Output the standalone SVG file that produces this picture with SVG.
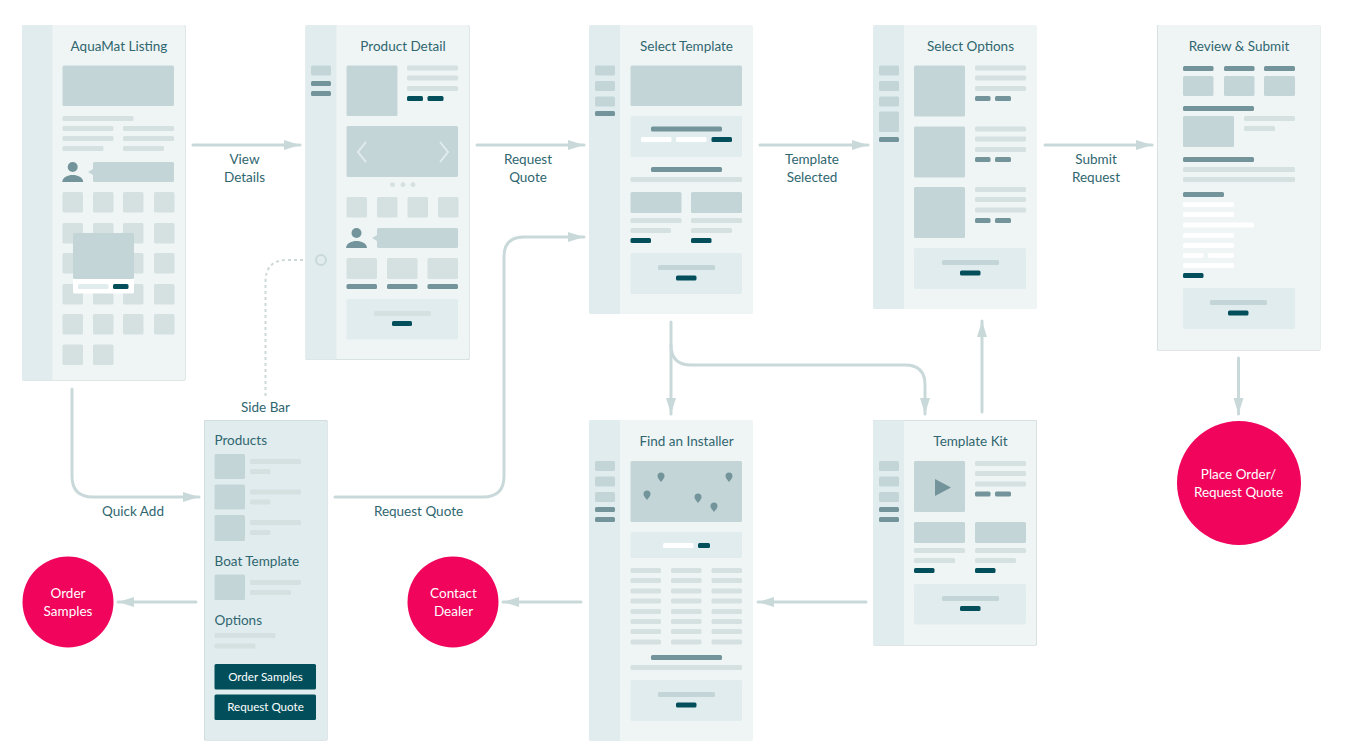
<svg xmlns="http://www.w3.org/2000/svg" width="1349" height="756" viewBox="0 0 1349 756">
<style>
text{font-family:"Lato","Noto Sans","Liberation Sans",sans-serif;font-size:13.500px;fill:#2f666f}
.t{text-anchor:middle}
.w{fill:#fff}
.tw{fill:#fff;text-anchor:middle}
.b{font-size:11.600px}
rect{rx:1.5px}
.card{fill:#eff5f5}
.edge{fill:#c2cecf}
.side{fill:#e1ecee}
.a{fill:#c4d5d7}
.l{fill:#d5e0e1}
.m{fill:#73949a}
.d{fill:#024f5b}
.p{fill:#e1ecee}
.r{fill:#f0045c}
.c{fill:none;stroke:#c9d9da;stroke-width:3;stroke-linecap:round}
.ds{fill:none;stroke:#cdd8d9;stroke-width:2;stroke-dasharray:3 3}
</style>
<defs>
<marker id="ah" markerUnits="userSpaceOnUse" markerWidth="18" markerHeight="12" refX="16" refY="5.5" orient="auto"><path d="M0 0.5L16 5.5L0 10.5z" fill="#c9d9da"/></marker>
<path id="pin" d="M0 5C-2 2.500-3.500 1-3.500-1A3.500 3.500 0 0 1 3.500-1C3.500 1 2 2.500 0 5z" fill="#73949a"/>
<path id="person" d="M-10.500 15C-10 10-5 8 0 8S10 10 10.500 15z" fill="#73949a"/>
</defs>
<g id="connectors">
<path class="c" marker-end="url(#ah)" d="M193 145H300"/>
<path class="c" marker-end="url(#ah)" d="M477 145H584"/>
<path class="c" marker-end="url(#ah)" d="M760 145H868"/>
<path class="c" marker-end="url(#ah)" d="M1045 145H1152"/>
<path class="c" marker-end="url(#ah)" d="M1238.500 358V414"/>
<path class="c" marker-end="url(#ah)" d="M72 389V476Q72 497 93 497H199"/>
<path class="c" marker-end="url(#ah)" d="M335 497H483Q504 497 504 476V257Q504 237 524 237H584"/>
<path class="c" marker-end="url(#ah)" d="M671 322V414"/>
<path class="c" marker-end="url(#ah)" d="M671 345Q671 365 691 365H905Q925 365 925 385V414"/>
<path class="c" marker-end="url(#ah)" d="M982 412V321"/>
<path class="c" marker-end="url(#ah)" d="M866 602H758"/>
<path class="c" marker-end="url(#ah)" d="M581 602H503"/>
<path class="c" marker-end="url(#ah)" d="M196 602H118"/>
<path class="ds" d="M315 260H287Q265.500 260 265.500 282V396"/>
</g>
<g id="labels">
<text class="t" x="244.500" y="164">View</text><text class="t" x="244.500" y="182">Details</text>
<text class="t" x="528" y="164">Request</text><text class="t" x="528" y="182">Quote</text>
<text class="t" x="812" y="164">Template</text><text class="t" x="812" y="182">Selected</text>
<text class="t" x="1096" y="164">Submit</text><text class="t" x="1096" y="182">Request</text>
<text class="t" x="133" y="516">Quick Add</text>
<text class="t" x="418.500" y="516">Request Quote</text>
<text class="t" x="265.500" y="412">Side Bar</text>
</g>
<g id="aquamat-listing">
<rect class="edge" x="22" y="25" width="163.500" height="355.500"/><rect class="card" x="22" y="25" width="163" height="355"/>
<path class="side" d="M24 25H52.500V380H24Q22 380 22 378V27Q22 25 24 25z"/>
<text class="t" x="119" y="50.500">AquaMat Listing</text>
<rect class="a" x="62.500" y="65.500" width="111.500" height="40.500"/>
<rect class="l" x="62.500" y="116" width="71" height="5"/>
<rect class="l" x="62.500" y="126" width="51" height="5"/><rect class="l" x="123" y="126" width="51" height="5"/>
<rect class="l" x="62.500" y="136" width="51" height="5"/><rect class="l" x="123" y="136" width="51" height="5"/>
<rect class="l" x="62.500" y="146" width="41" height="5"/><rect class="l" x="123" y="146" width="41" height="5"/>
<circle class="m" cx="72.700" cy="167" r="5"/><use href="#person" x="72.700" y="167"/>
<rect class="a" x="93" y="162" width="81" height="20"/><path class="a" d="M88 172L93 169V175z"/>
<rect class="l" x="62.500" y="192" width="20.500" height="20.500"/><rect class="l" x="93" y="192" width="20.500" height="20.500"/><rect class="l" x="123" y="192" width="20.500" height="20.500"/><rect class="l" x="154" y="192" width="20.500" height="20.500"/>
<rect class="l" x="62.500" y="223" width="20.500" height="20.500"/><rect class="l" x="93" y="223" width="20.500" height="20.500"/><rect class="l" x="123" y="223" width="20.500" height="20.500"/><rect class="l" x="154" y="223" width="20.500" height="20.500"/>
<rect class="l" x="62.500" y="253" width="20.500" height="20.500"/><rect class="l" x="93" y="253" width="20.500" height="20.500"/><rect class="l" x="123" y="253" width="20.500" height="20.500"/><rect class="l" x="154" y="253" width="20.500" height="20.500"/>
<rect class="l" x="62.500" y="284" width="20.500" height="20.500"/><rect class="l" x="93" y="284" width="20.500" height="20.500"/><rect class="l" x="123" y="284" width="20.500" height="20.500"/><rect class="l" x="154" y="284" width="20.500" height="20.500"/>
<rect class="l" x="62.500" y="314" width="20.500" height="20.500"/><rect class="l" x="93" y="314" width="20.500" height="20.500"/><rect class="l" x="123" y="314" width="20.500" height="20.500"/><rect class="l" x="154" y="314" width="20.500" height="20.500"/>
<rect class="l" x="62.500" y="344.500" width="20.500" height="20.500"/><rect class="l" x="93" y="344.500" width="20.500" height="20.500"/>
<rect class="w" x="73" y="270" width="61" height="23.500"/>
<rect class="a" x="73" y="233" width="61" height="46"/>
<rect class="p" x="78" y="284" width="30.500" height="5"/><rect class="d" x="113" y="284" width="15.500" height="5"/>
</g>
<g id="product-detail">
<rect class="edge" x="305.500" y="25" width="164" height="335"/><rect class="card" x="305.500" y="25" width="163.500" height="334.500"/>
<path class="side" d="M307.500 25H336.500V359.500H307.500Q305.500 359.500 305.500 357.500V27Q305.500 25 307.500 25z"/>
<text class="t" x="403" y="50.500">Product Detail</text>
<rect class="a" x="311" y="65.500" width="20" height="10"/><rect class="m" x="311" y="81" width="20" height="5"/><rect class="m" x="311" y="91" width="20" height="5"/>
<rect class="a" x="346.500" y="65.500" width="51" height="50.500"/>
<rect class="l" x="407" y="65.500" width="51" height="5"/><rect class="l" x="407" y="75.500" width="51" height="5"/><rect class="l" x="407" y="86" width="51" height="5"/>
<rect class="d" x="407" y="96" width="16" height="5"/><rect class="d" x="427.500" y="96" width="16" height="5"/>
<rect class="a" x="346.500" y="126" width="111.500" height="51"/>
<path d="M366 142L358 152L366 162M440 142L448 152L440 162" fill="none" stroke="#e1ecee" stroke-width="2"/>
<circle class="l" cx="392.500" cy="184.700" r="2.400"/><circle class="l" cx="403" cy="184.700" r="2.400"/><circle class="l" cx="413" cy="184.700" r="2.400"/>
<rect class="l" x="346.500" y="197" width="20.500" height="20.500"/><rect class="l" x="377" y="197" width="20.500" height="20.500"/><rect class="l" x="407.500" y="197" width="20.500" height="20.500"/><rect class="l" x="438" y="197" width="20.500" height="20.500"/>
<circle class="m" cx="356.500" cy="233" r="5"/><use href="#person" x="356.500" y="233"/>
<rect class="a" x="377" y="228" width="81" height="20"/><path class="a" d="M372 238L377 235V241z"/>
<rect class="l" x="346.500" y="258" width="30.500" height="21"/><rect class="l" x="387" y="258" width="30.500" height="21"/><rect class="l" x="427.500" y="258" width="30.500" height="21"/>
<rect class="m" x="346.500" y="284" width="30.500" height="5"/><rect class="m" x="387" y="284" width="30.500" height="5"/><rect class="m" x="427.500" y="284" width="30.500" height="5"/>
<rect class="p" x="346.500" y="299" width="111.500" height="40.500"/><rect class="l" x="374" y="311" width="57" height="5"/><rect class="d" x="392" y="321" width="20" height="5"/>
<circle cx="321" cy="260" r="5" fill="none" stroke="#c9d9da" stroke-width="2"/>
</g>
<g id="select-template">
<rect class="card" x="589" y="25" width="164" height="289"/>
<path class="side" d="M591 25H620V314H591Q589 314 589 312V27Q589 25 591 25z"/>
<text class="t" x="686.500" y="50.500">Select Template</text>
<rect class="a" x="595" y="65.500" width="20" height="10"/><rect class="a" x="595" y="81" width="20" height="10"/><rect class="a" x="595" y="96.500" width="20" height="10"/><rect class="m" x="595" y="111" width="20" height="5"/>
<rect class="a" x="630.500" y="65.500" width="111.500" height="40.500"/>
<rect class="p" x="630.500" y="116" width="111.500" height="41"/>
<rect class="m" x="651" y="126.500" width="71" height="5"/>
<rect class="w" x="641" y="137" width="30.500" height="5"/><rect class="w" x="676" y="137" width="30.500" height="5"/><rect class="d" x="711.500" y="137" width="20.500" height="5"/>
<rect class="m" x="651" y="167" width="71" height="5"/><rect class="l" x="630.500" y="177" width="111.500" height="5"/>
<rect class="a" x="630.500" y="192" width="51" height="21"/><rect class="a" x="691" y="192" width="51" height="21"/>
<rect class="l" x="630.500" y="218" width="51" height="5"/><rect class="l" x="691" y="218" width="51" height="5"/>
<rect class="l" x="630.500" y="228" width="40.500" height="5"/><rect class="l" x="691" y="228" width="41" height="5"/>
<rect class="d" x="630.500" y="238" width="20.500" height="5"/><rect class="d" x="691" y="238" width="20.500" height="5"/>
<rect class="p" x="630.500" y="253" width="111.500" height="41"/><rect class="a" x="658" y="265" width="57" height="5"/><rect class="d" x="676" y="275.500" width="20.500" height="5"/>
</g>
<g id="select-options">
<rect class="card" x="873" y="25" width="164" height="284"/>
<path class="side" d="M875 25H904V309H875Q873 309 873 307V27Q873 25 875 25z"/>
<text class="t" x="970.500" y="50.500">Select Options</text>
<rect class="a" x="879" y="65.500" width="20" height="10"/><rect class="a" x="879" y="81" width="20" height="10"/><rect class="a" x="879" y="96.500" width="20" height="10"/><rect class="a" x="879" y="111.500" width="20" height="20.500"/><rect class="m" x="879" y="137" width="20" height="5"/>
<rect class="a" x="914" y="65.500" width="51" height="51"/><rect class="a" x="914" y="126.500" width="51" height="51"/><rect class="a" x="914" y="187" width="51" height="51"/>
<rect class="l" x="975" y="65.500" width="51" height="5"/><rect class="l" x="975" y="75.500" width="51" height="5"/><rect class="l" x="975" y="86" width="51" height="5"/><rect class="m" x="975" y="96" width="15.500" height="5"/><rect class="m" x="995" y="96" width="16" height="5"/>
<rect class="l" x="975" y="126.500" width="51" height="5"/><rect class="l" x="975" y="136.500" width="51" height="5"/><rect class="l" x="975" y="147" width="51" height="5"/><rect class="m" x="975" y="157" width="15.500" height="5"/><rect class="m" x="995" y="157" width="16" height="5"/>
<rect class="l" x="975" y="187" width="51" height="5"/><rect class="l" x="975" y="197" width="51" height="5"/><rect class="l" x="975" y="207.500" width="51" height="5"/><rect class="m" x="975" y="218" width="15.500" height="5"/><rect class="m" x="995" y="218" width="16" height="5"/>
<rect class="p" x="914" y="248" width="112" height="41"/><rect class="a" x="942" y="260" width="57" height="5"/><rect class="d" x="960" y="270.500" width="20.500" height="5"/>
</g>
<g id="review-submit">
<rect class="edge" x="1157" y="25" width="163.500" height="325.500"/><rect class="card" x="1157.500" y="25" width="163" height="325"/>
<text class="t" x="1239" y="50.500">Review &amp; Submit</text>
<rect class="m" x="1183" y="66" width="30.500" height="5"/><rect class="m" x="1224" y="66" width="30.500" height="5"/><rect class="m" x="1264" y="66" width="31" height="5"/>
<rect class="a" x="1183" y="76" width="30.500" height="20"/><rect class="a" x="1224" y="76" width="30.500" height="20"/><rect class="a" x="1264" y="76" width="31" height="20"/>
<rect class="m" x="1183" y="106" width="71" height="5"/>
<rect class="a" x="1183" y="116" width="51" height="31"/>
<rect class="l" x="1244" y="116" width="51" height="5"/><rect class="l" x="1244" y="126" width="31" height="5"/>
<rect class="m" x="1183" y="157" width="71" height="5"/>
<rect class="l" x="1183" y="167" width="112" height="5"/><rect class="l" x="1183" y="177" width="112" height="5"/>
<rect class="m" x="1183" y="192" width="41" height="5"/>
<rect class="w" x="1183" y="202" width="51" height="5"/><rect class="w" x="1183" y="212" width="51" height="5"/><rect class="w" x="1183" y="222.500" width="71" height="5"/><rect class="w" x="1183" y="233" width="51" height="5"/><rect class="w" x="1183" y="243" width="51" height="5"/><rect class="w" x="1183" y="253" width="20.500" height="5"/><rect class="w" x="1208" y="253" width="26" height="5"/><rect class="w" x="1183" y="263" width="51" height="5"/>
<rect class="d" x="1183" y="273" width="20.500" height="5"/>
<rect class="p" x="1183" y="288" width="112" height="41"/><rect class="a" x="1210" y="300" width="57" height="5"/><rect class="d" x="1228" y="310.500" width="20.500" height="5"/>
</g>
<g id="side-bar">
<rect class="edge" x="204" y="420" width="123.500" height="320.500"/><rect class="side" x="204.500" y="420.500" width="122.500" height="319.500"/>
<text x="214.500" y="445">Products</text>
<rect class="a" x="214.500" y="454" width="30.500" height="25"/><rect class="l" x="250" y="459" width="51" height="5"/><rect class="l" x="250" y="469" width="20.500" height="5"/>
<rect class="a" x="214.500" y="484.500" width="30.500" height="25"/><rect class="l" x="250" y="489.500" width="51" height="5"/><rect class="l" x="250" y="499.500" width="20.500" height="5"/>
<rect class="a" x="214.500" y="515" width="30.500" height="26"/><rect class="l" x="250" y="520" width="51" height="5"/><rect class="l" x="250" y="530" width="20.500" height="5"/>
<text x="214.500" y="566">Boat Template</text>
<rect class="a" x="214.500" y="574.500" width="30.500" height="25.500"/><rect class="l" x="250" y="580" width="51" height="5"/><rect class="l" x="250" y="590" width="41" height="5"/>
<text x="214.500" y="624.500">Options</text>
<rect class="l" x="214.500" y="633" width="61" height="5"/><rect class="l" x="214.500" y="643.500" width="41" height="5"/>
<rect class="d" x="214.500" y="664" width="101.500" height="25.500"/><text class="tw b" x="265.500" y="680.500">Order Samples</text>
<rect class="d" x="214.500" y="694.500" width="101.500" height="25.500"/><text class="tw b" x="265.500" y="711">Request Quote</text>
</g>
<g id="find-installer">
<rect class="card" x="589" y="420" width="164" height="321"/>
<path class="side" d="M591 420H620V741H591Q589 741 589 739V422Q589 420 591 420z"/>
<text class="t" x="686.500" y="446">Find an Installer</text>
<rect class="a" x="595" y="461" width="20" height="10"/><rect class="a" x="595" y="476.500" width="20" height="10"/><rect class="a" x="595" y="492" width="20" height="10"/><rect class="m" x="595" y="507" width="20" height="5"/><rect class="m" x="595" y="517" width="20" height="5"/>
<rect class="a" x="630.500" y="461" width="111.500" height="61"/>
<use href="#pin" x="661" y="477"/><use href="#pin" x="729" y="477"/><use href="#pin" x="647" y="495"/><use href="#pin" x="698" y="498"/><use href="#pin" x="714" y="507"/>
<rect class="p" x="630.500" y="532" width="111.500" height="26"/><rect class="w" x="663" y="543" width="30.500" height="5"/><rect class="d" x="698" y="543" width="12" height="5"/>
<g class="l">
<rect x="630.500" y="568" width="30.500" height="5"/><rect x="671" y="568" width="30.500" height="5"/><rect x="711.500" y="568" width="30.500" height="5"/>
<rect x="630.500" y="578" width="30.500" height="5"/><rect x="671" y="578" width="30.500" height="5"/><rect x="711.500" y="578" width="30.500" height="5"/>
<rect x="630.500" y="588.500" width="30.500" height="5"/><rect x="671" y="588.500" width="30.500" height="5"/><rect x="711.500" y="588.500" width="30.500" height="5"/>
<rect x="630.500" y="598.500" width="30.500" height="5"/><rect x="671" y="598.500" width="30.500" height="5"/><rect x="711.500" y="598.500" width="30.500" height="5"/>
<rect x="630.500" y="609" width="30.500" height="5"/><rect x="671" y="609" width="30.500" height="5"/><rect x="711.500" y="609" width="30.500" height="5"/>
<rect x="630.500" y="619" width="30.500" height="5"/><rect x="671" y="619" width="30.500" height="5"/><rect x="711.500" y="619" width="30.500" height="5"/>
<rect x="630.500" y="629" width="30.500" height="5"/><rect x="671" y="629" width="30.500" height="5"/><rect x="711.500" y="629" width="30.500" height="5"/>
<rect x="630.500" y="639.500" width="30.500" height="5"/><rect x="671" y="639.500" width="30.500" height="5"/><rect x="711.500" y="639.500" width="30.500" height="5"/>
</g>
<rect class="m" x="651" y="655" width="71" height="5"/><rect class="l" x="630.500" y="665" width="111.500" height="5"/>
<rect class="p" x="630.500" y="680" width="111.500" height="41"/><rect class="a" x="658" y="692" width="57" height="5"/><rect class="d" x="676" y="702.500" width="20.500" height="5"/>
</g>
<g id="template-kit">
<rect class="edge" x="873" y="420" width="164" height="225.500"/><rect class="card" x="873" y="420.500" width="163.500" height="224.500"/>
<path class="side" d="M875 420.500H904V645H875Q873 645 873 643V422.500Q873 420.500 875 420.500z"/>
<text class="t" x="970.500" y="446">Template Kit</text>
<rect class="a" x="879" y="461" width="20" height="10"/><rect class="a" x="879" y="476.500" width="20" height="10"/><rect class="a" x="879" y="492" width="20" height="10"/><rect class="m" x="879" y="507" width="20" height="5"/><rect class="m" x="879" y="517" width="20" height="5"/>
<rect class="a" x="914" y="461" width="51" height="51"/><path class="m" d="M935 479L951 487.500L935 496z"/>
<rect class="l" x="975" y="461" width="51" height="5"/><rect class="l" x="975" y="471" width="51" height="5"/><rect class="l" x="975" y="481.500" width="51" height="5"/><rect class="m" x="975" y="491.500" width="15.500" height="5"/><rect class="m" x="995" y="491.500" width="16" height="5"/>
<rect class="a" x="914" y="522" width="51" height="21"/><rect class="a" x="975" y="522" width="51" height="21"/>
<rect class="l" x="914" y="548" width="51" height="5"/><rect class="l" x="975" y="548" width="51" height="5"/>
<rect class="l" x="914" y="558" width="41" height="5"/><rect class="l" x="975" y="558" width="41" height="5"/>
<rect class="d" x="914" y="568" width="20.500" height="5"/><rect class="d" x="975" y="568" width="20.500" height="5"/>
<rect class="p" x="914" y="584" width="112" height="40.500"/><rect class="a" x="942" y="596" width="57" height="5"/><rect class="d" x="960" y="606" width="20.500" height="5"/>
</g>
<g id="order-samples"><circle class="r" cx="68" cy="602" r="45.500"/><text class="tw" x="68" y="598">Order</text><text class="tw" x="68" y="616">Samples</text></g>
<g id="contact-dealer"><circle class="r" cx="453" cy="602" r="45.500"/><text class="tw" x="453.500" y="598">Contact</text><text class="tw" x="453.500" y="616">Dealer</text></g>
<g id="place-order"><circle class="r" cx="1239" cy="483" r="62"/><text class="tw" x="1238.500" y="479">Place Order/</text><text class="tw" x="1238.500" y="497">Request Quote</text></g>
</svg>
